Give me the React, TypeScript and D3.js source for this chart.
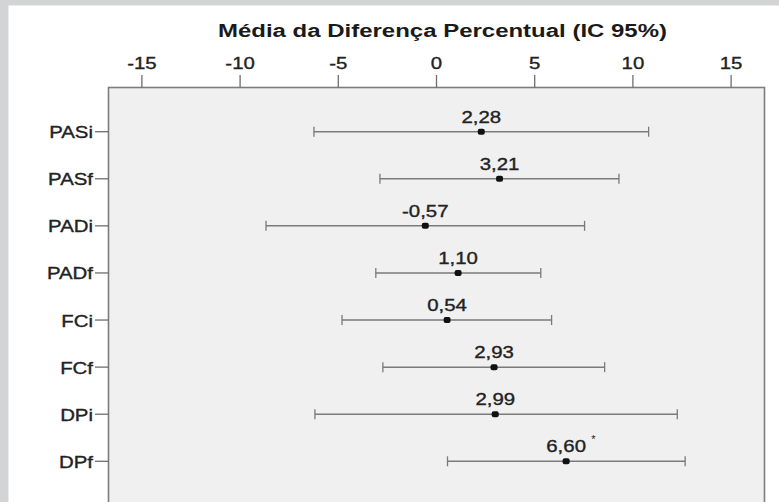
import React, { useEffect } from "react";
import * as d3 from "d3";

const categories = ["PASi", "PASf", "PADi", "PADf", "FCi", "FCf", "DPi", "DPf"];
const means = [2.28, 3.21, -0.57, 1.10, 0.54, 2.93, 2.99, 6.60];
const lower = [-6.24, -2.88, -8.68, -3.09, -4.81, -2.73, -6.19, 0.56];
const upper = [10.80, 9.29, 7.54, 5.31, 5.86, 8.56, 12.26, 12.66];
const valueLabels = ["2,28", "3,21", "-0,57", "1,10", "0,54", "2,93", "2,99", "6,60"];
const significant = [false, false, false, false, false, false, false, true];
const xTicks = [-15, -10, -5, 0, 5, 10, 15];
const title = "Média da Diferença Percentual (IC 95%)";

const W = 779;
const H = 502;
const FONT = "'Liberation Sans', Arial, sans-serif";
const SX = 1.2;

export default function App() {
  useEffect(() => {
    document.body.style.margin = "0";
  }, []);

  const box = { left: 108.5, right: 764.5, top: 87.5, bottom: 520 };
  const x = d3.scaleLinear().domain([-16.7, 16.7]).range([box.left, box.right]);
  const y = d3.scalePoint<string>().domain(categories).range([131.7, 461.3]);

  const txt = (
    key: string,
    tx: number,
    ty: number,
    s: string,
    anchor: "start" | "middle" | "end",
    size: number
  ) => (
    <text
      key={key}
      transform={`translate(${tx},${ty}) scale(${SX},1)`}
      textAnchor={anchor}
      fontFamily={FONT}
      fontSize={size}
      fill="#222222"
      stroke="#222222"
      strokeWidth={0.35}
    >
      {s}
    </text>
  );

  return (
    <svg
      width={W}
      height={H}
      style={{ position: "absolute", left: 0, top: 0, display: "block" }}
    >
      <rect x={0} y={0} width={W} height={H} fill="#d3d4d6" />
      <rect x={8.5} y={5.5} width={W - 8.5} height={H} fill="#ffffff" />
      <rect
        x={box.left}
        y={box.top}
        width={box.right - box.left}
        height={box.bottom - box.top}
        fill="#f0f0f0"
        stroke="#7d7d7d"
        strokeWidth={1.6}
      />
      <text
        x={442.5}
        y={37}
        textAnchor="middle"
        fontFamily={FONT}
        fontSize={18}
        fontWeight="bold"
        fill="#1a1a1a"
        textLength={449}
        lengthAdjust="spacingAndGlyphs"
      >
        {title}
      </text>
      {xTicks.map((t) => (
        <g key={"xt" + t}>
          <line x1={x(t)} x2={x(t)} y1={75} y2={box.top} stroke="#6e6e6e" strokeWidth={1.3} />
          {txt("xl" + t, x(t), 69, String(t), "middle", 17)}
        </g>
      ))}
      {categories.map((c) => (
        <g key={"yt" + c}>
          <line x1={95} x2={box.left} y1={y(c)!} y2={y(c)!} stroke="#6e6e6e" strokeWidth={1.3} />
          {txt("yl" + c, 93, y(c)! + 6.5, c, "end", 17)}
        </g>
      ))}
      {categories.map((c, i) => {
        const cy = y(c)!;
        return (
          <g key={"row" + c}>
            <line x1={x(lower[i])} x2={x(upper[i])} y1={cy} y2={cy} stroke="#7a7a7a" strokeWidth={1.5} />
            <line x1={x(lower[i])} x2={x(lower[i])} y1={cy - 5} y2={cy + 5} stroke="#7a7a7a" strokeWidth={1.3} />
            <line x1={x(upper[i])} x2={x(upper[i])} y1={cy - 5} y2={cy + 5} stroke="#7a7a7a" strokeWidth={1.3} />
            <rect x={x(means[i]) - 3.5} y={cy - 3} width={7} height={6} rx={2} fill="#111111" />
            {txt("vl" + c, x(means[i]), cy - 9, valueLabels[i], "middle", 17)}
            {significant[i] ? (
              <text
                x={x(means[i]) + 25}
                y={cy - 18}
                fontFamily={FONT}
                fontSize={11}
                fill="#222222"
              >
                *
              </text>
            ) : null}
          </g>
        );
      })}
    </svg>
  );
}
